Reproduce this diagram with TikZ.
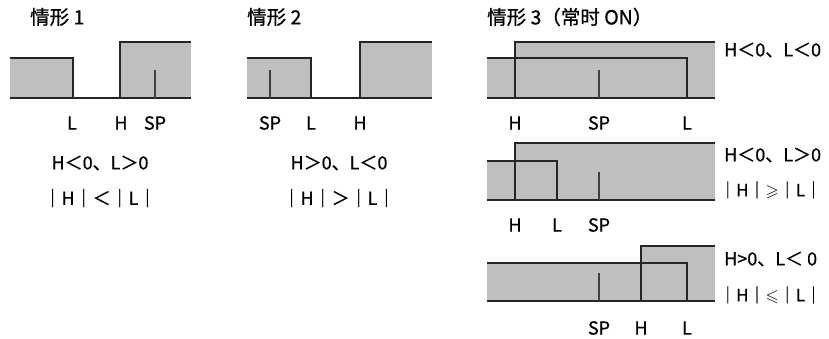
\documentclass[tikz,border=0pt]{standalone}
\usepackage{amssymb}
\usepackage{fontspec}
\setmainfont{Noto Sans CJK SC}[FakeBold=0.8]
\tikzset{
  wave/.style={line width=2.2pt, draw=black!85},
  spmark/.style={line width=1.1pt, draw=black!75},
  area/.style={fill=areagray},
  lbl/.style={font=\fontsize{18}{20}\selectfont, inner sep=0pt},
  ttl/.style={font=\fontsize{19.5}{21}\selectfont, inner sep=0pt, anchor=west},
  cond/.style={font=\fontsize{18}{20}\selectfont, inner sep=0pt},
  condsm/.style={font=\fontsize{17}{19}\selectfont, inner sep=0pt, anchor=west},
}
\definecolor{areagray}{RGB}{191,191,193}
\begin{document}
\begin{tikzpicture}[x=1pt,y=-1pt]
\useasboundingbox (0,0) rectangle (829,338);
% ---------- titles
\node[ttl] (t1) at (30,17) {情形 1};
\node[ttl] (t2) at (247,17) {情形 2};
\node[ttl] (t3) at (487,17) {情形 3（常时 ON）};
% ---------- case 1
\fill[area] (10,58) rectangle (73,98);
\fill[area] (120,42) rectangle (191,98);
\draw[wave] (10,58) -- (73,58) -- (73,98);
\draw[wave] (120,98) -- (120,42) -- (191,42);
\draw[wave] (10,98) -- (191,98);
\draw[spmark] (155,70) -- (155,98);
\node[lbl] (c1L) at (72,123) {L};
\node[lbl] (c1H) at (121,123) {H};
\node[lbl] (c1S) at (155,123) {SP};
\node[cond] (c1a) at (100,163) {H＜0、L＞0};
\node[cond] (c1b) at (100,198) {｜H｜＜｜L｜};
% ---------- case 2
\fill[area] (247,58) rectangle (311,98);
\fill[area] (360,42) rectangle (432,98);
\draw[wave] (247,58) -- (311,58) -- (311,98);
\draw[wave] (360,98) -- (360,42) -- (432,42);
\draw[wave] (247,98) -- (432,98);
\draw[spmark] (270,70) -- (270,98);
\node[lbl] (c2S) at (270,123) {SP};
\node[lbl] (c2L) at (311,123) {L};
\node[lbl] (c2H) at (360,123) {H};
\node[cond] (c2a) at (339,163) {H＞0、L＜0};
\node[cond] (c2b) at (339,198) {｜H｜＞｜L｜};
% ---------- case 3, panel 1
\fill[area] (487,58) -- (515,58) -- (515,42) -- (715,42) -- (715,98) -- (487,98) -- cycle;
\draw[wave] (515,98) -- (515,42) -- (715,42);
\draw[wave] (487,58) -- (687,58) -- (687,98);
\draw[wave] (487,98) -- (715,98);
\draw[spmark] (599,70) -- (599,98);
\node[lbl] (p1H) at (515,123) {H};
\node[lbl] (p1S) at (599,123) {SP};
\node[lbl] (p1L) at (687,123) {L};
\node[cond, anchor=west] (p1a) at (724,50) {H＜0、L＜0};
% ---------- case 3, panel 2
\fill[area] (487,161) -- (515,161) -- (515,143) -- (715,143) -- (715,200) -- (487,200) -- cycle;
\draw[wave] (515,200) -- (515,143) -- (715,143);
\draw[wave] (487,161) -- (557,161) -- (557,200);
\draw[wave] (487,200) -- (715,200);
\draw[spmark] (599,172) -- (599,200);
\node[lbl] (p2H) at (515,225) {H};
\node[lbl] (p2L) at (557,225) {L};
\node[lbl] (p2S) at (599,225) {SP};
\node[cond, anchor=west] (p2a) at (724,155) {H＜0、L＞0};
\node[condsm] (p2b) at (719,190) {｜H｜$\geqslant$｜L｜};
% ---------- case 3, panel 3
\fill[area] (487,263) -- (641,263) -- (641,246) -- (715,246) -- (715,301) -- (487,301) -- cycle;
\draw[wave] (641,301) -- (641,246) -- (715,246);
\draw[wave] (487,263) -- (687,263) -- (687,301);
\draw[wave] (487,301) -- (715,301);
\draw[spmark] (599,273) -- (599,301);
\node[lbl] (p3S) at (599,328) {SP};
\node[lbl] (p3H) at (641,328) {H};
\node[lbl] (p3L) at (687,328) {L};
\node[cond, anchor=west] (p3a) at (724,259) {H>0、L＜ 0};
\node[condsm] (p3b) at (719,295) {｜H｜$\leqslant$｜L｜};
\end{tikzpicture}
\end{document}
